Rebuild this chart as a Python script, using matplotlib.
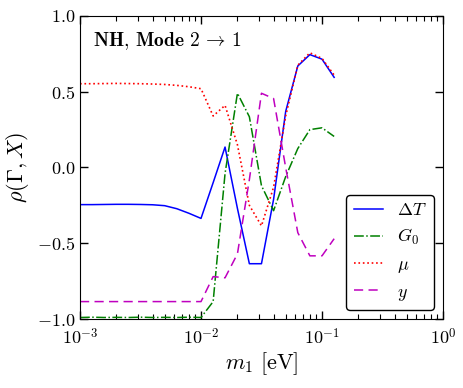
import numpy as np
import matplotlib
matplotlib.use("Agg")
import matplotlib.pyplot as plt
from matplotlib.ticker import FuncFormatter, LogLocator, MultipleLocator

plt.rcParams['mathtext.fontset'] = 'cm'
plt.rcParams['font.family'] = 'serif'
plt.rcParams['font.serif'] = ['cmr10', 'DejaVu Serif']
plt.rcParams['axes.unicode_minus'] = False

# lightest neutrino mass grid [eV]
m1 = [0.001, 0.00126, 0.00158, 0.002, 0.00251, 0.00316, 0.00398, 0.00501,
      0.00631, 0.00794, 0.01, 0.0126, 0.0158, 0.02, 0.0251, 0.0316, 0.0398,
      0.0501, 0.0631, 0.0794, 0.1, 0.126]

rho_dT = [-0.245, -0.245, -0.244, -0.243, -0.243, -0.244, -0.246, -0.252,
          -0.272, -0.302, -0.336, -0.10, 0.135, -0.27, -0.635, -0.635,
          -0.21, 0.37, 0.67, 0.745, 0.715, 0.595]
rho_G0 = [-0.99, -0.988, -0.99, -0.989, -0.99, -0.988, -0.99, -0.989,
          -0.99, -0.988, -0.99, -0.885, -0.04, 0.49, 0.335, -0.12,
          -0.285, -0.06, 0.125, 0.25, 0.262, 0.205]
rho_mu = [0.553, 0.553, 0.554, 0.555, 0.554, 0.553, 0.551, 0.548,
          0.542, 0.533, 0.52, 0.34, 0.41, 0.15, -0.25, -0.385,
          -0.13, 0.34, 0.675, 0.757, 0.72, 0.61]
rho_y = [-0.885, -0.885, -0.885, -0.885, -0.885, -0.885, -0.885, -0.885,
         -0.885, -0.885, -0.885, -0.72, -0.728, -0.57, -0.08, 0.49,
         0.455, 0.0, -0.43, -0.583, -0.583, -0.47]

fig = plt.figure(figsize=(4.63, 3.88), dpi=100)
ax = fig.add_axes([0.1728, 0.1778, 0.784, 0.781])

ax.plot(m1, rho_dT, '-', color='b', lw=1.1, label=r'$\Delta T$')
ax.plot(m1, rho_G0, '-.', color='g', lw=1.1, label=r'$G_0$')
ax.plot(m1, rho_mu, ':', color='r', lw=1.2, label=r'$\mu$')
ax.plot(m1, rho_y, '--', color='m', lw=1.1, dashes=(6, 3.5), label=r'$y$')

ax.set_xscale('log')
ax.set_xlim(1e-3, 1)
ax.set_ylim(-1, 1)
ax.yaxis.set_major_locator(MultipleLocator(0.5))
ax.xaxis.set_major_locator(LogLocator(base=10, numticks=10))
ax.xaxis.set_minor_locator(LogLocator(base=10, subs=np.arange(2, 10), numticks=10))
ax.xaxis.set_major_formatter(FuncFormatter(lambda v, p: r'$10^{%d}$' % round(np.log10(v))))
ax.yaxis.set_major_formatter(FuncFormatter(lambda v, p: r'$%.1f$' % v))

ax.tick_params(which='both', direction='in', top=True, right=True, labelsize=13)
ax.tick_params(which='major', length=6, width=1)
ax.tick_params(which='minor', length=3.5, width=0.8)
ax.tick_params(axis='x', pad=6)

ax.set_xlabel(r'$m_1\ [\mathrm{eV}]$', fontsize=16, labelpad=2)
ax.set_ylabel(r'$\rho(\Gamma, X)$', fontsize=16, labelpad=4)

ax.text(0.035, 0.955, r'$\mathbf{NH}$$\mathbf{,}$ $\mathbf{Mode}$ $2\,\rightarrow\,1$',
        transform=ax.transAxes, ha='left', va='top', fontsize=14)

leg = ax.legend(loc='lower right', fontsize=13, handlelength=1.6,
                borderaxespad=0.5, fancybox=True, framealpha=1)
leg.get_frame().set_edgecolor('k')
leg.get_frame().set_linewidth(1)

fig.savefig('out.png', dpi=100)
